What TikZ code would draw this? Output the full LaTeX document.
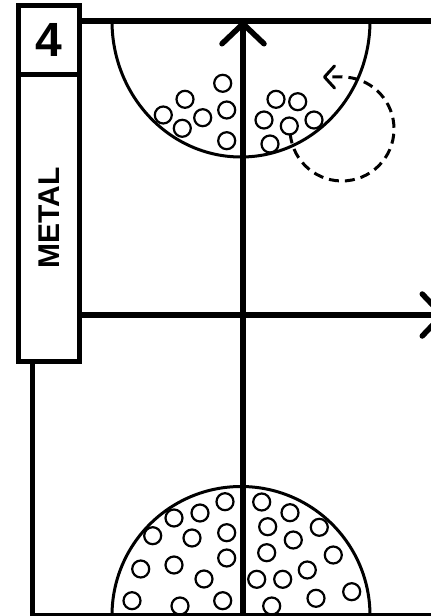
\documentclass[tikz,border=0pt]{standalone}
\usepackage{fontspec}
\setmainfont{Liberation Sans}
\usetikzlibrary{arrows.meta}

\tikzset{
  line/.style={line width=5.5pt},
  ball/.style={line width=2.2pt},
  arcline/.style={line width=3pt},
  barb/.style={-{Straight Barb[length=20pt, width=42pt, round]}},
  labelbox/.style={draw, line width=5pt, inner sep=0pt, outer sep=0pt, font=\bfseries},
}

\begin{document}
\begin{tikzpicture}[x=1pt, y=-1pt]
    \useasboundingbox (0,0) rectangle (431,616);

    % Label boxes
    \node[labelbox, minimum width=60.5pt, minimum height=69.5pt,
          font=\bfseries\fontsize{48}{48}\selectfont] (num) at (48.75,39.75) {4};
    \node[labelbox, rotate=90, anchor=east, minimum width=286.5pt, minimum height=60.5pt,
          font=\bfseries\fontsize{30}{30}\selectfont] (lbl) at (num.south) {METAL};

    % Field lines
    \coordinate (top) at (243,21);
    \coordinate (mid) at (79,315);
    \coordinate (leg) at (32.5,361);
    \draw[line] (num.east |- top) -- (440,21);
    \draw[line, barb] (mid) -- (445,315);
    \draw[line] (leg) -- (32.5,620);
    \draw[line] (32.5,615.5) -- (440,615.5);
    \draw[line, barb] (243,620) -- (top);

    % Half circles
    \draw[arcline] (112,21) arc[start angle=180, end angle=360, x radius=129pt, y radius=136pt];
    \draw[arcline] (112,615.5) arc[start angle=180, end angle=0, radius=129pt];

    % Balls, top
    \foreach \p in {(222.7,83.3), (185,99.3), (226.7,110), (163.3,115), (202.7,117.7),
                    (182.3,128.3), (226.7,140.7), (276,99.3), (297.7,101.7), (264,120),
                    (314,120), (289.3,126), (270,144)}
        \draw[ball] \p circle[radius=8.5pt];

    % Balls, bottom
    \foreach \p in {(225,501.7), (200,513), (174,518), (152.7,535.7), (226.7,532.7),
                    (192,538), (226.7,558), (174,565), (140.7,569), (204,579),
                    (132,600.7), (180,606), (222.7,600.7),
                    (261.7,502), (290,512.7), (267.7,526.7), (319.3,527.3), (293.3,540),
                    (266.7,552.7), (333.3,555), (307.3,570), (256.7,579.3), (282.7,579.3),
                    (351.7,591.7), (316,598.3), (271.7,606)}
        \draw[ball] \p circle[radius=8.5pt];

    % Spin
    \coordinate (spin) at (323,77);
    \draw[arcline, dash pattern=on 10pt off 6pt, -{Straight Barb[length=10pt, width=22pt, round]}]
        (290.2,133.5) arc[start angle=185, end angle=450, radius=52pt] -- (spin);
\end{tikzpicture}
\end{document}
